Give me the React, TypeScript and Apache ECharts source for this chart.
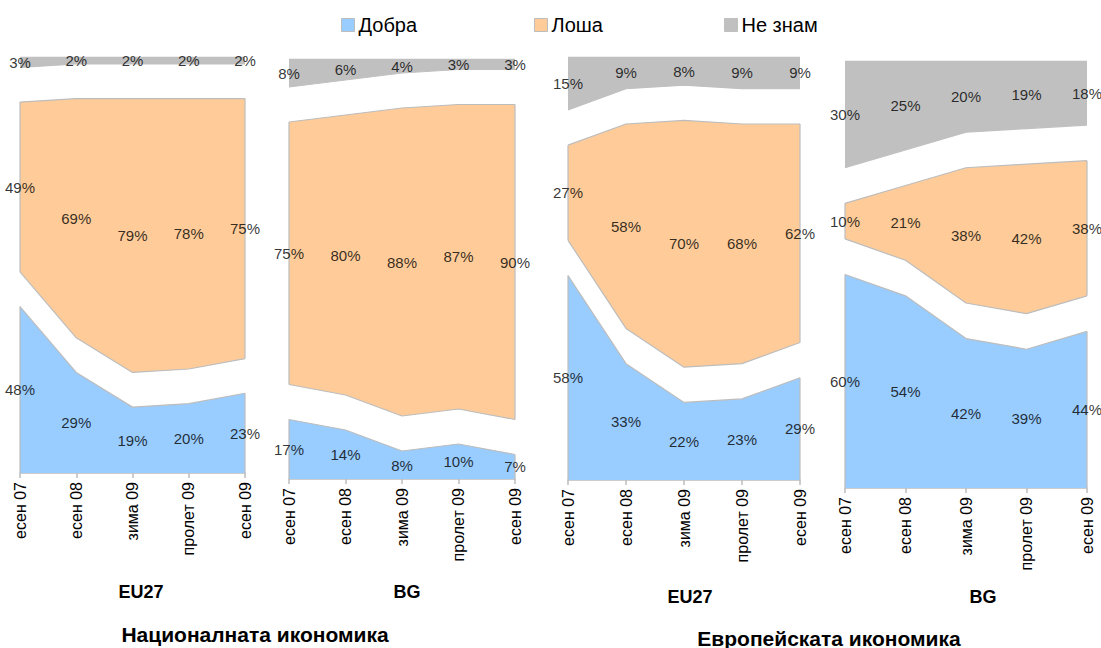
import React, { useEffect, useRef } from "react";
import * as echarts from "echarts";

const categories = ["есен 07", "есен 08", "зима 09", "пролет 09", "есен 09"];
const seriesNames = ["Добра", "Лоша", "Не знам"];

// National economy
const natEU_good = [48, 29, 19, 20, 23];
const natEU_bad = [49, 69, 79, 78, 75];
const natEU_dk = [3, 2, 2, 2, 2];
const natBG_good = [17, 14, 8, 10, 7];
const natBG_bad = [75, 80, 88, 87, 90];
const natBG_dk = [8, 6, 4, 3, 3];
// European economy
const euEU_good = [58, 33, 22, 23, 29];
const euEU_bad = [27, 58, 70, 68, 62];
const euEU_dk = [15, 9, 8, 9, 9];
const euBG_good = [60, 54, 42, 39, 44];
const euBG_bad = [10, 21, 38, 42, 38];
const euBG_dk = [30, 25, 20, 19, 18];

const panelLabels = ["EU27", "BG", "EU27", "BG"];
const groupTitles = ["Националната икономика", "Европейската икономика"];

const GAP = 10;
const FONT = "'Liberation Sans', Arial, sans-serif";
const COLORS = ["#99ccff", "#ffcc99", "#c0c0c0"];
const EDGE = "#bdbdbd";

const panels = [
  { good: natEU_good, bad: natEU_bad, dk: natEU_dk, grid: { left: 20, top: 57, width: 225, height: 416 } },
  { good: natBG_good, bad: natBG_bad, dk: natBG_dk, grid: { left: 289, top: 59, width: 226, height: 420 } },
  { good: euEU_good, bad: euEU_bad, dk: euEU_dk, grid: { left: 568, top: 57, width: 232, height: 423 } },
  { good: euBG_good, bad: euBG_bad, dk: euBG_dk, grid: { left: 845, top: 61, width: 242, height: 427 } },
];

const legendLeft = [341, 534, 724];

export default function App() {
  const ref = useRef<HTMLDivElement>(null);
  useEffect(() => {
    if (!ref.current) return;
    const chart = echarts.init(ref.current, undefined, { renderer: "svg" });
    const grids: any[] = [];
    const xAxes: any[] = [];
    const yAxes: any[] = [];
    const series: any[] = [];
    panels.forEach((p, i) => {
      grids.push({ ...p.grid, containLabel: false });
      xAxes.push({
        type: "category",
        gridIndex: i,
        data: categories,
        boundaryGap: false,
        axisLine: { lineStyle: { color: EDGE, width: 1.5 } },
        axisTick: { show: true, length: 5, lineStyle: { color: EDGE, width: 1.5 } },
        axisLabel: { rotate: 90, fontSize: 16, color: "#000", fontFamily: FONT, margin: 9, interval: 0 },
      });
      yAxes.push({ type: "value", gridIndex: i, min: 0, max: 120, show: false, splitLine: { show: false } });
      const stack = "s" + i;
      const gap = p.good.map(() => GAP);
      const layers = [
        { name: seriesNames[0], data: p.good, color: COLORS[0], line: EDGE },
        { name: "gap1", data: gap, color: "transparent", line: EDGE },
        { name: seriesNames[1], data: p.bad, color: COLORS[1], line: EDGE },
        { name: "gap2", data: gap, color: "transparent", line: COLORS[2] },
        { name: seriesNames[2], data: p.dk, color: COLORS[2], line: COLORS[2] },
      ];
      layers.forEach((l) => {
        series.push({
          type: "line",
          name: l.name,
          xAxisIndex: i,
          yAxisIndex: i,
          stack,
          data: l.data,
          symbol: "none",
          showSymbol: false,
          silent: true,
          lineStyle: { color: l.line, width: 1.2 },
          itemStyle: { color: l.color === "transparent" ? EDGE : l.color },
          areaStyle: { color: l.color, opacity: 1 },
          z: 2,
        });
      });
      // vertical edges of the blue and orange bands at first and last category
      const last = categories.length - 1;
      const edges: number[][] = [];
      [0, last].forEach((k) => {
        edges.push([k, 0, p.good[k]]);
        edges.push([k, p.good[k] + GAP, p.good[k] + GAP + p.bad[k]]);
      });
      series.push({
        type: "custom",
        name: "edges",
        xAxisIndex: i,
        yAxisIndex: i,
        silent: true,
        data: edges,
        z: 3,
        renderItem: (_params: any, api: any) => {
          const a = api.coord([api.value(0), api.value(1)]);
          const b = api.coord([api.value(0), api.value(2)]);
          return {
            type: "line",
            shape: { x1: a[0], y1: a[1], x2: b[0], y2: b[1] },
            style: { stroke: EDGE, lineWidth: 1.2 },
          };
        },
      });
      // label positions (middle of each band)
      const mids = [
        p.good.map((v, k) => [k, v / 2, v]),
        p.bad.map((v, k) => [k, p.good[k] + GAP + v / 2, v]),
        p.dk.map((v, k) => [k, p.good[k] + GAP + p.bad[k] + GAP + v / 2, v]),
      ];
      mids.forEach((d, j) => {
        series.push({
          type: "scatter",
          name: "lbl" + j,
          xAxisIndex: i,
          yAxisIndex: i,
          data: d,
          symbolSize: 1,
          silent: true,
          itemStyle: { color: "rgba(0,0,0,0)" },
          label: {
            show: true,
            position: "inside",
            formatter: (pr: any) => pr.value[2] + "%",
            fontSize: 15,
            color: "#000",
            fontFamily: FONT,
          },
          z: 5,
        });
      });
    });

    const panelPos = [
      [141, 592],
      [407, 592],
      [690, 597],
      [983, 597],
    ];
    const graphics: any[] = panelLabels.map((t, i) => ({
      type: "text",
      x: panelPos[i][0],
      y: panelPos[i][1],
      style: {
        text: t,
        fontSize: 18,
        fontWeight: "bold",
        fontFamily: FONT,
        fill: "#000",
        textAlign: "center",
        textVerticalAlign: "middle",
      },
    }));
    const groupPos = [
      [255, 634],
      [829, 638],
    ];
    groupTitles.forEach((t, i) => {
      graphics.push({
        type: "text",
        x: groupPos[i][0],
        y: groupPos[i][1],
        style: {
          text: t,
          fontSize: 21,
          fontWeight: "bold",
          fontFamily: FONT,
          fill: "#000",
          textAlign: "center",
          textVerticalAlign: "middle",
        },
      });
    });

    const legends = seriesNames.map((n, i) => ({
      left: legendLeft[i],
      top: 15,
      padding: 0,
      itemWidth: 13,
      itemHeight: 13,
      itemGap: 0,
      icon: "rect",
      selectedMode: false,
      textStyle: { fontSize: 20, color: "#000", fontFamily: FONT, padding: [0, 0, 0, -1] },
      data: [
        {
          name: n,
          itemStyle: { color: COLORS[i], borderColor: i < 2 ? EDGE : COLORS[i], borderWidth: 1 },
        },
      ],
    }));

    chart.setOption({
      animation: false,
      backgroundColor: "#fff",
      legend: legends,
      grid: grids,
      xAxis: xAxes,
      yAxis: yAxes,
      series,
      graphic: graphics,
    });
    return () => chart.dispose();
  }, []);
  return (
    <div
      ref={ref}
      style={{ position: "fixed", left: 0, top: 0, width: 1101, height: 648, background: "#fff" }}
    />
  );
}
